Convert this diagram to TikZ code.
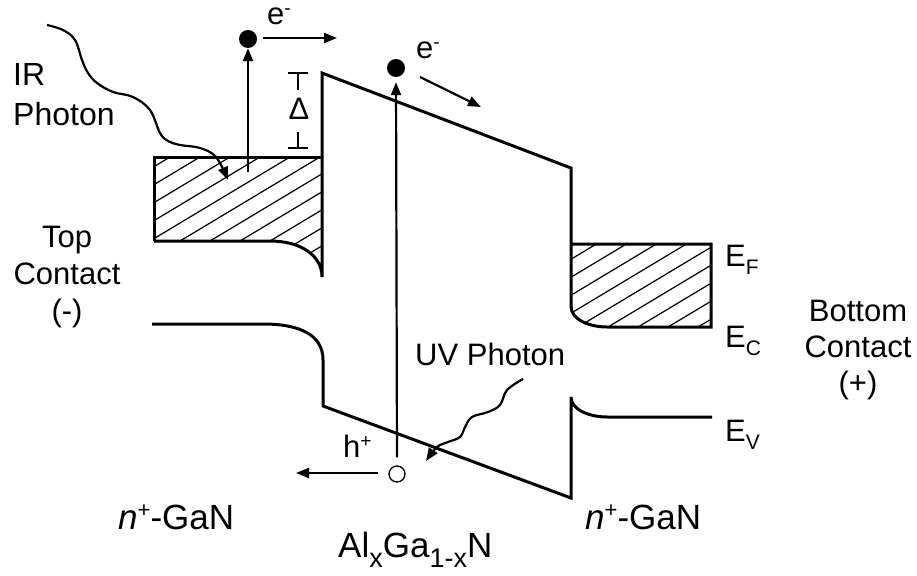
\documentclass[tikz,border=0pt]{standalone}
\usepackage{fontspec}
\setmainfont{Liberation Sans}
\usetikzlibrary{arrows.meta}
\newcommand\lsub[1]{\raisebox{-8pt}{\fontsize{21}{21}\selectfont #1}}
\newcommand\lsup[1]{\raisebox{10pt}{\fontsize{19}{19}\selectfont #1}}
\newcommand\bsup[1]{\raisebox{12pt}{\fontsize{22}{22}\selectfont #1}}
\newcommand\bsub[1]{\raisebox{-10pt}{\fontsize{27}{27}\selectfont #1}}
\begin{document}
\begin{tikzpicture}[x=1pt,y=-1pt,
  every node/.style={inner sep=0pt,font=\fontsize{31}{36}\selectfont},
  biglabel/.style={font=\fontsize{35}{40}\selectfont},
  band/.style={line width=3pt,line join=miter},
  hatchline/.style={line width=1.2pt},
  arr/.style={line width=2.2pt,-{Triangle[length=13pt,width=10pt]}},
  wave/.style={line width=2.2pt,-{Triangle[length=13pt,width=10pt]}},
  tick/.style={line width=1.8pt},
  dot/.style={circle,fill=black,minimum size=18pt},
  holec/.style={circle,draw=black,line width=1.3pt,minimum size=16pt}]
\useasboundingbox (0,0) rectangle (917,575);
% ---------- hatching, left contact ----------
\begin{scope}
  \clip (154,157) -- (322,157) -- (322,277) .. controls (322,255) and (300,241) .. (270,241) -- (154,241) -- cycle;
  \foreach \k in {-12,...,12} \draw[hatchline] (180+30*\k-300,241+180) -- ++(600,-360);
\end{scope}
% ---------- hatching, right contact ----------
\begin{scope}
  \clip (571,244) -- (711,244) -- (711,327) -- (607,327) .. controls (590,327) and (571,320) .. (571,306) -- cycle;
  \foreach \k in {-12,...,12} \draw[hatchline] (608+30*\k-300,327+180) -- ++(600,-360);
\end{scope}
% ---------- conduction band ----------
\draw[band] (154,241) -- (154,157) -- (322,157);
\draw[band] (154,241) -- (270,241) .. controls (300,241) and (322,255) .. (322,277) -- (322,73) -- (571,168) -- (571,306) .. controls (571,320) and (590,327) .. (607,327) -- (711,327) -- (711,244) -- (571,244);
% ---------- valence band ----------
\draw[band] (152,324) -- (263,324) .. controls (300,324) and (323,335) .. (323,360) -- (323,406) -- (571,498) -- (571,397) .. controls (571,410) and (590,417) .. (607,417) -- (712,417);
% ---------- barrier height marker ----------
\draw[tick] (288,73) -- (308,73) (298,73) -- (298,90);
\draw[tick] (298,132) -- (298,148) (288,148) -- (308,148);
\node (delta) at (299,109) {Δ};
% ---------- carriers ----------
\node[dot] (d1) at (248,39) {};
\node[dot] (d2) at (396,68) {};
\node[holec] (hole) at (397,474) {};
\coordinate (s1) at (248,172);
\draw[arr] (s1) -- (d1.south);
\draw[arr,shorten <=8pt,shorten >=5pt] (hole.north) -- (d2.south);
\coordinate (r1a) at (263,38); \coordinate (r1b) at (337,38);
\draw[arr] (r1a) -- (r1b);
\coordinate (r2a) at (420,77); \coordinate (r2b) at (481,107);
\draw[arr] (r2a) -- (r2b);
\coordinate (hla) at (378,473); \coordinate (hlb) at (296,473);
\draw[arr] (hla) -- (hlb);
% ---------- photons ----------
\draw[wave] plot[smooth,tension=0.6] coordinates {(47,25) (63,30) (75,40) (82,60) (88,73) (97,83) (113,92) (133,97) (150,110) (160,133) (168,141) (180,145) (200,148) (216,157) (228,180)};
\draw[wave] plot[smooth,tension=0.6] coordinates {(523,379) (507,390) (500,405) (488,412) (472,417) (465,427) (460,437) (448,442) (437,447) (426,461)};
% ---------- labels ----------
\node[anchor=base west] (le1) at (267,25) {e\lsup{-}};
\node[anchor=base west] (le2) at (416,59) {e\lsup{-}};
\node[anchor=base west] (lh) at (343,457) {h\lsup{+}};
\node[anchor=west,align=left,font=\fontsize{32}{40}\selectfont] (ir) at (13,95) {IR\\Photon};
\node[align=center,font=\fontsize{31}{37}\selectfont] (top) at (67,277) {Top\\Contact\\(-)};
\node[align=center,font=\fontsize{31}{36}\selectfont] (bot) at (858,350) {Bottom\\Contact\\(+)};
\node[anchor=base west] (uv) at (415,365) {UV Photon};
\node[anchor=base west] (ef) at (725,266) {E\lsub{F}};
\node[anchor=base west] (ec) at (725,347) {E\lsub{C}};
\node[anchor=base west] (ev) at (725,441) {E\lsub{V}};
\node[anchor=base west,biglabel] (gl) at (118,529) {\textit{n}\bsup{+}-GaN};
\node[anchor=base west,biglabel] (gr) at (585,529) {\textit{n}\bsup{+}-GaN};
\node[anchor=base west,biglabel] (al) at (338,557) {Al\bsub{x}Ga\bsub{1-x}N};
\end{tikzpicture}
\end{document}
